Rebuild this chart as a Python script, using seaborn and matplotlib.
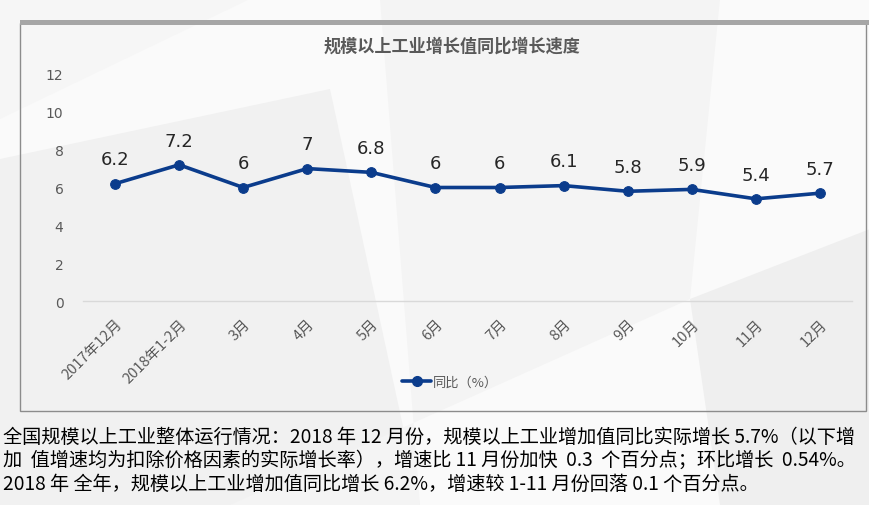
import matplotlib
matplotlib.use("Agg", force=True)
import matplotlib.pyplot as plt
from matplotlib.patches import Polygon, Rectangle
from matplotlib.lines import Line2D
import pandas as pd
import seaborn as sns

MONTHS = ["2017年12月", "2018年1-2月", "3月", "4月", "5月", "6月",
          "7月", "8月", "9月", "10月", "11月", "12月"]
YOY = [6.2, 7.2, 6.0, 7.0, 6.8, 6.0, 6.0, 6.1, 5.8, 5.9, 5.4, 5.7]
Y_TICKS = [0, 2, 4, 6, 8, 10, 12]
TITLE = "规模以上工业增长值同比增长速度"
LEGEND_LABEL = "同比（%）"
PARAGRAPH = [
    "全国规模以上工业整体运行情况：2018 年 12 月份，规模以上工业增加值同比实际增长 5.7%（以下增",
    "加  值增速均为扣除价格因素的实际增长率），增速比 11 月份加快  0.3  个百分点；环比增长  0.54%。",
    "2018 年 全年，规模以上工业增加值同比增长 6.2%，增速较 1-11 月份回落 0.1 个百分点。",
]

LINE_COLOR = "#0B3C8C"
GREY_TEXT = "#595959"

sns.set_theme(style="white")
plt.rcParams["font.family"] = ["Noto Sans CJK SC", "DejaVu Sans"]

W, H = 870, 506
fig = plt.figure(figsize=(W / 100, H / 100), dpi=100)
fig.patch.set_facecolor("#fafafa")


def px(x, y):
    return x / W, 1 - y / H


# faint background facets
bg = fig.add_axes([0, 0, 1, 1], zorder=-10)
bg.set_xlim(0, W)
bg.set_ylim(H, 0)
bg.axis("off")
for pts, col in [
    ([(0, 160), (330, 90), (420, 506), (0, 506)], "#f1f1f1"),
    ([(380, 0), (720, 0), (690, 300), (230, 506), (420, 506)], "#f4f4f4"),
    ([(690, 300), (870, 230), (870, 506), (720, 506)], "#efefef"),
    ([(0, 0), (250, 0), (0, 120)], "#f6f6f6"),
]:
    bg.add_patch(Polygon(pts, closed=True, facecolor=col, edgecolor="none"))
# chart frame
bg.add_patch(Rectangle((20.5, 24), 846, 388, facecolor="none", edgecolor="#8c8c8c", lw=1))
bg.add_patch(Rectangle((20, 21), 850, 4.5, facecolor="#a6a6a6", edgecolor="none"))

left, bottom = px(83, 302)
right, top = px(852, 75)
ax = fig.add_axes([left, bottom, right - left, top - bottom])
ax.patch.set_alpha(0)

df = pd.DataFrame({"month": MONTHS, "yoy": YOY})
df["pos"] = range(len(df))
sns.lineplot(data=df, x="pos", y="yoy", ax=ax, color=LINE_COLOR, lw=2.6,
             marker="o", markersize=7, markeredgecolor=LINE_COLOR, legend=False)

for x, y in zip(df["pos"], df["yoy"]):
    ax.annotate(f"{y:g}", (x, y), xytext=(0, 11), textcoords="offset points",
                ha="center", va="bottom", fontsize=13, color="#262626",
                family=["DejaVu Sans"], annotation_clip=False)

for side in ["left", "right", "top"]:
    ax.spines[side].set_visible(False)
ax.spines["bottom"].set_color("#d9d9d9")
ax.spines["bottom"].set_linewidth(1)

ax.set_xlim(-0.5, len(MONTHS) - 0.5)
ax.set_ylim(0, 12)
ax.set_yticks(Y_TICKS)
ax.set_yticklabels([str(t) for t in Y_TICKS], color=GREY_TEXT, fontsize=10,
                   family=["DejaVu Sans"])
ax.set_xticks(df["pos"])
ax.set_xticklabels(MONTHS, rotation=45, ha="right", rotation_mode="anchor",
                   color=GREY_TEXT, fontsize=10.5)
ax.tick_params(axis="y", length=0, pad=14)
ax.tick_params(axis="x", length=0, pad=11)
ax.set_xlabel("")
ax.set_ylabel("")

fig.text(*px(452, 47), TITLE, ha="center", va="center", fontsize=12.3,
         fontweight="bold", color=GREY_TEXT)

handle = Line2D([], [], color=LINE_COLOR, lw=2.6, marker="o", markersize=7)
fig.legend(handles=[handle], labels=[LEGEND_LABEL], loc="center",
           bbox_to_anchor=px(450, 383), frameon=False, fontsize=9.5,
           labelcolor=GREY_TEXT, handlelength=2.2, handletextpad=0.1)

for i, line in enumerate(PARAGRAPH):
    fig.text(*px(3, 437 + i * 23.5), line, ha="left", va="center",
             fontsize=13.8, color="#000000")

fig.savefig("out.png", dpi=100, facecolor=fig.get_facecolor())
